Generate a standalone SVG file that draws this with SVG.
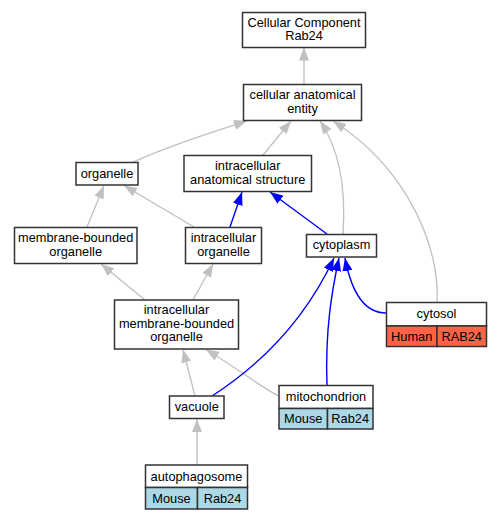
<svg xmlns="http://www.w3.org/2000/svg" width="501" height="520" viewBox="0 0 501 520">
<style>
.n{fill:#fff;stroke:#333;stroke-width:1.5}
.t{font-family:"Liberation Sans",Arial,sans-serif;font-size:12.8px;text-anchor:middle;fill:#000}
.g{fill:none;stroke:#c0c0c0;stroke-width:1.3}
.b{fill:none;stroke:#0000ff;stroke-width:1.4}
.hu{fill:#ff6347;stroke:#333;stroke-width:1.5}
.mo{fill:#add8e6;stroke:#333;stroke-width:1.5}
</style>
<defs>
<marker id="ag" viewBox="0 0 13 10" refX="13" refY="5" markerWidth="13" markerHeight="10" orient="auto" markerUnits="userSpaceOnUse"><path d="M0,0 L13,5 L0,10 z" fill="#c0c0c0"/></marker>
<marker id="ab" viewBox="0 0 13 10" refX="13" refY="5" markerWidth="13" markerHeight="10" orient="auto" markerUnits="userSpaceOnUse"><path d="M0,0 L13,5 L0,10 z" fill="#0000ff"/></marker>
</defs>
<rect width="501" height="520" fill="#fff"/>
<g id="connectors">
<path class="g" marker-end="url(#ag)" d="M304,84 L304,47.5"/>
<path class="g" marker-end="url(#ag)" d="M131,163 C170,145 215,131 247,121"/>
<path class="g" marker-end="url(#ag)" d="M263,155 L291,121"/>
<path class="g" marker-end="url(#ag)" d="M343,234 C346,190 340,150 320,121"/>
<path class="g" marker-end="url(#ag)" d="M437,302 C440,250 410,170 333,121"/>
<path class="g" marker-end="url(#ag)" d="M87,227 L104,185.5"/>
<path class="g" marker-end="url(#ag)" d="M194,227 L124,185.5"/>
<path class="b" marker-end="url(#ab)" d="M230,227 L242,192"/>
<path class="b" marker-end="url(#ab)" d="M327,234 L270,192"/>
<path class="g" marker-end="url(#ag)" d="M145,300 L101,264"/>
<path class="g" marker-end="url(#ag)" d="M193,300 L213,264"/>
<path class="g" marker-end="url(#ag)" d="M195,396 L183,349.5"/>
<path class="g" marker-end="url(#ag)" d="M279,396 C265,390 240,370 206,349.5"/>
<path class="b" marker-end="url(#ab)" d="M212,396 C260,365 305,320 334,258"/>
<path class="b" marker-end="url(#ab)" d="M327,385 C325,330 332,290 339,258"/>
<path class="b" marker-end="url(#ab)" d="M386,313 C365,313 352,295 345,258"/>
<path class="g" marker-end="url(#ag)" d="M197,465 L197,419"/>
</g>
<g id="cc">
<rect class="n" x="242.5" y="12.5" width="123" height="35"/>
<text class="t" x="304" y="26.5">Cellular Component</text>
<text class="t" x="304" y="40">Rab24</text>
</g>
<g id="cae">
<rect class="n" x="243.5" y="84.5" width="118" height="36"/>
<text class="t" x="302.5" y="99">cellular anatomical</text>
<text class="t" x="302.5" y="112.5">entity</text>
</g>
<g id="organelle">
<rect class="n" x="76" y="162.5" width="62" height="22.5"/>
<text class="t" x="107" y="177.5">organelle</text>
</g>
<g id="ias">
<rect class="n" x="184" y="155.5" width="127.5" height="36"/>
<text class="t" x="247.7" y="170">intracellular</text>
<text class="t" x="247.7" y="183.5">anatomical structure</text>
</g>
<g id="mbo">
<rect class="n" x="14.5" y="227.5" width="122.5" height="36"/>
<text class="t" x="75.7" y="242">membrane-bounded</text>
<text class="t" x="75.7" y="255.5">organelle</text>
</g>
<g id="io">
<rect class="n" x="185.5" y="227.5" width="76" height="36"/>
<text class="t" x="223.5" y="242">intracellular</text>
<text class="t" x="223.5" y="255.5">organelle</text>
</g>
<g id="cytoplasm">
<rect class="n" x="306.5" y="234.5" width="70" height="22.5"/>
<text class="t" x="341.5" y="249.3">cytoplasm</text>
</g>
<g id="imbo">
<rect class="n" x="114.5" y="300" width="124" height="49"/>
<text class="t" x="176.5" y="314">intracellular</text>
<text class="t" x="176.5" y="327.5">membrane-bounded</text>
<text class="t" x="176.5" y="341">organelle</text>
</g>
<g id="cytosol">
<rect class="n" x="386.5" y="302.5" width="100" height="23.5"/>
<rect class="hu" x="386.5" y="326" width="50.5" height="20.5"/>
<rect class="hu" x="437" y="326" width="49.5" height="20.5"/>
<text class="t" x="436.5" y="318">cytosol</text>
<text class="t" x="411.7" y="340.5">Human</text>
<text class="t" x="461.7" y="340.5">RAB24</text>
</g>
<g id="vacuole">
<rect class="n" x="169.5" y="396" width="54.5" height="22.5"/>
<text class="t" x="196.7" y="411">vacuole</text>
</g>
<g id="mitochondrion">
<rect class="n" x="279" y="385.5" width="94" height="23"/>
<rect class="mo" x="279" y="408.5" width="48.5" height="20.5"/>
<rect class="mo" x="327.5" y="408.5" width="45.5" height="20.5"/>
<text class="t" x="326" y="401">mitochondrion</text>
<text class="t" x="303.2" y="423">Mouse</text>
<text class="t" x="350.2" y="423">Rab24</text>
</g>
<g id="autophagosome">
<rect class="n" x="145.5" y="465" width="102" height="22.5"/>
<rect class="mo" x="145.5" y="487.5" width="52" height="21.5"/>
<rect class="mo" x="197.5" y="487.5" width="50" height="21.5"/>
<text class="t" x="196.5" y="480.5">autophagosome</text>
<text class="t" x="171.5" y="502.5">Mouse</text>
<text class="t" x="222.5" y="502.5">Rab24</text>
</g>
</svg>
